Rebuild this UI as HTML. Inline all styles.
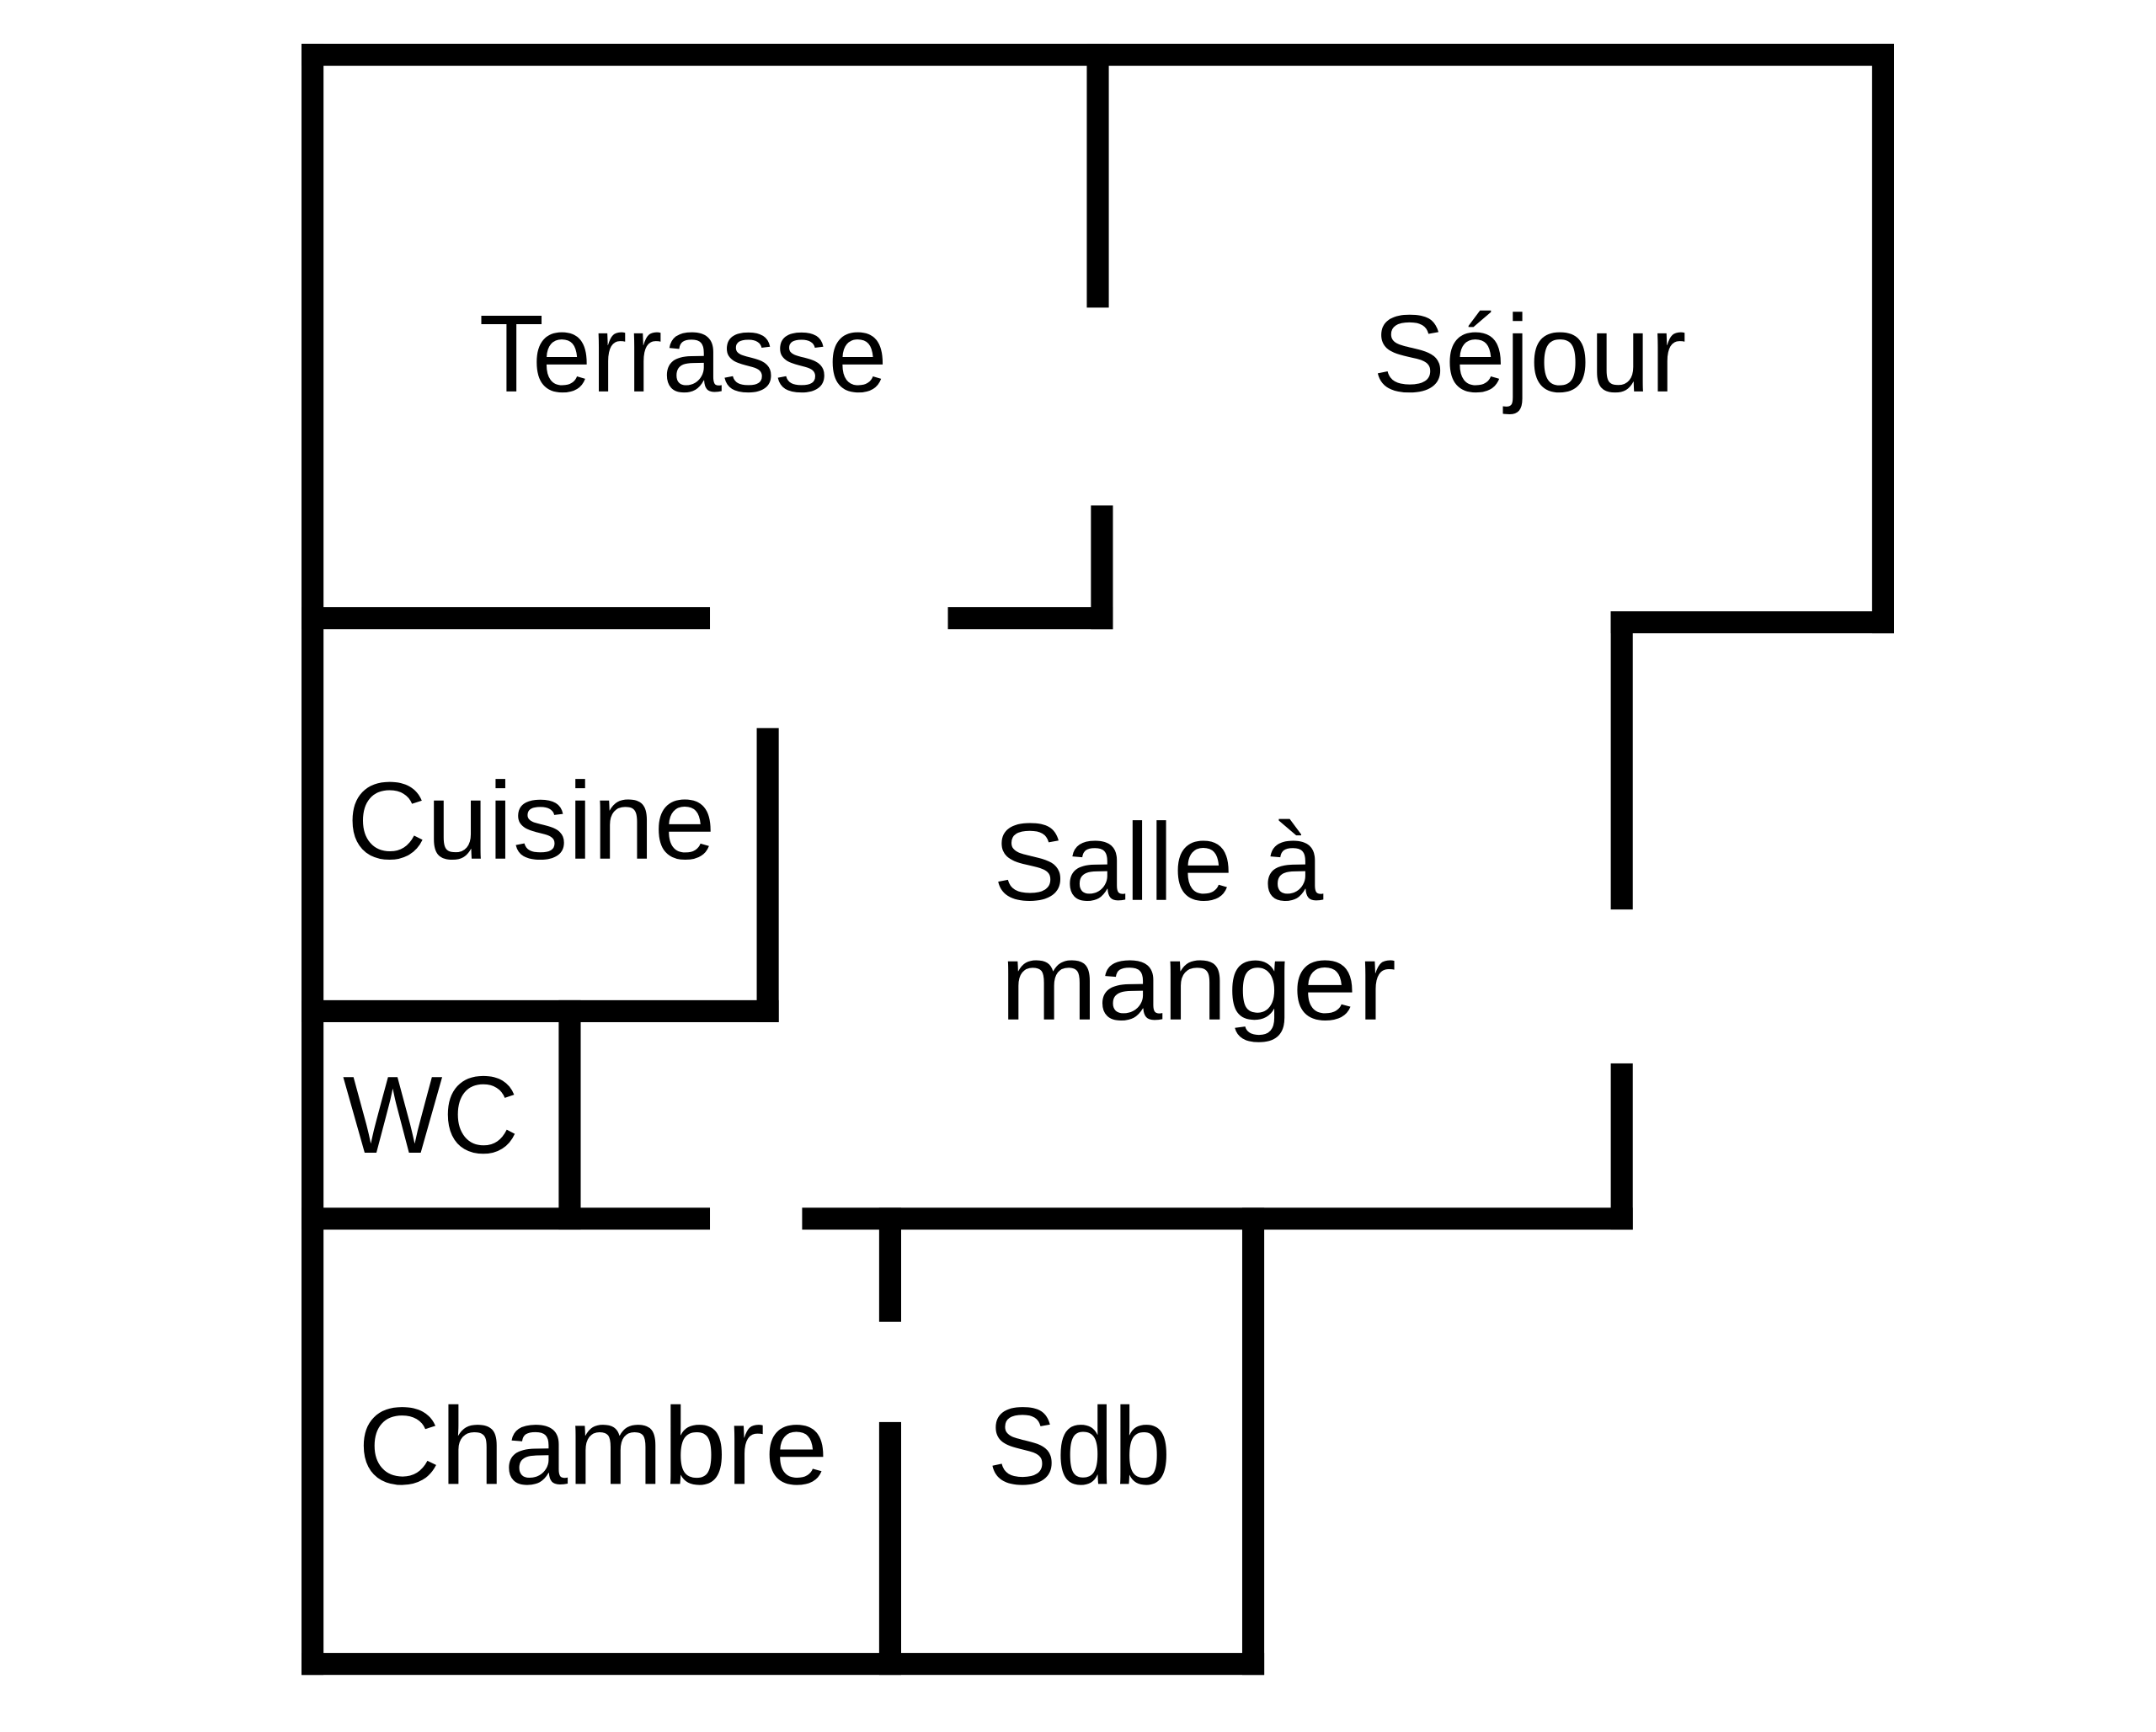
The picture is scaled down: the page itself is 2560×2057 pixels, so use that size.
<!DOCTYPE html>
<html><head><meta charset="utf-8"><style>
html,body{margin:0;padding:0;background:#fff;}
svg{display:block;}
text{font-family:"Liberation Sans",sans-serif;font-size:80px;fill:#000;}
</style></head><body>
<svg width="2560" height="2057" viewBox="-0.25 -0.85 1567.7 1260.4" preserveAspectRatio="none" xmlns="http://www.w3.org/2000/svg">
<g fill="#000">
<rect x="219" y="31" width="1158" height="16"/>
<rect x="219" y="31" width="16" height="1187"/>
<rect x="1361" y="31" width="16" height="429"/>
<rect x="1171" y="444" width="206" height="16"/>
<rect x="1171" y="444" width="16" height="217"/>
<rect x="1171" y="773" width="16" height="121"/>
<rect x="583" y="878" width="604" height="16"/>
<rect x="219" y="1202" width="700" height="16"/>
<rect x="903" y="878" width="16" height="340"/>
<rect x="790" y="31" width="16" height="192"/>
<rect x="793" y="367" width="16" height="90"/>
<rect x="689" y="441" width="120" height="16"/>
<rect x="219" y="441" width="297" height="16"/>
<rect x="550" y="529" width="16" height="214"/>
<rect x="219" y="727" width="347" height="16"/>
<rect x="406" y="727" width="16" height="167"/>
<rect x="219" y="878" width="297" height="16"/>
<rect x="639" y="878" width="16" height="83"/>
<rect x="639" y="1034" width="16" height="184"/>
</g>
<text x="348" y="284" textLength="297" lengthAdjust="spacingAndGlyphs">Terrasse</text>
<text x="998" y="284" textLength="228" lengthAdjust="spacingAndGlyphs">Séjour</text>
<text x="252" y="624" textLength="268" lengthAdjust="spacingAndGlyphs">Cuisine</text>
<text x="722" y="654" textLength="240" lengthAdjust="spacingAndGlyphs">Salle à</text>
<text x="727" y="741" textLength="288" lengthAdjust="spacingAndGlyphs">manger</text>
<text x="249" y="838" textLength="128" lengthAdjust="spacingAndGlyphs">WC</text>
<text x="260" y="1079" textLength="342" lengthAdjust="spacingAndGlyphs">Chambre</text>
<text x="718" y="1079" textLength="133" lengthAdjust="spacingAndGlyphs">Sdb</text>
</svg>
</body></html>
